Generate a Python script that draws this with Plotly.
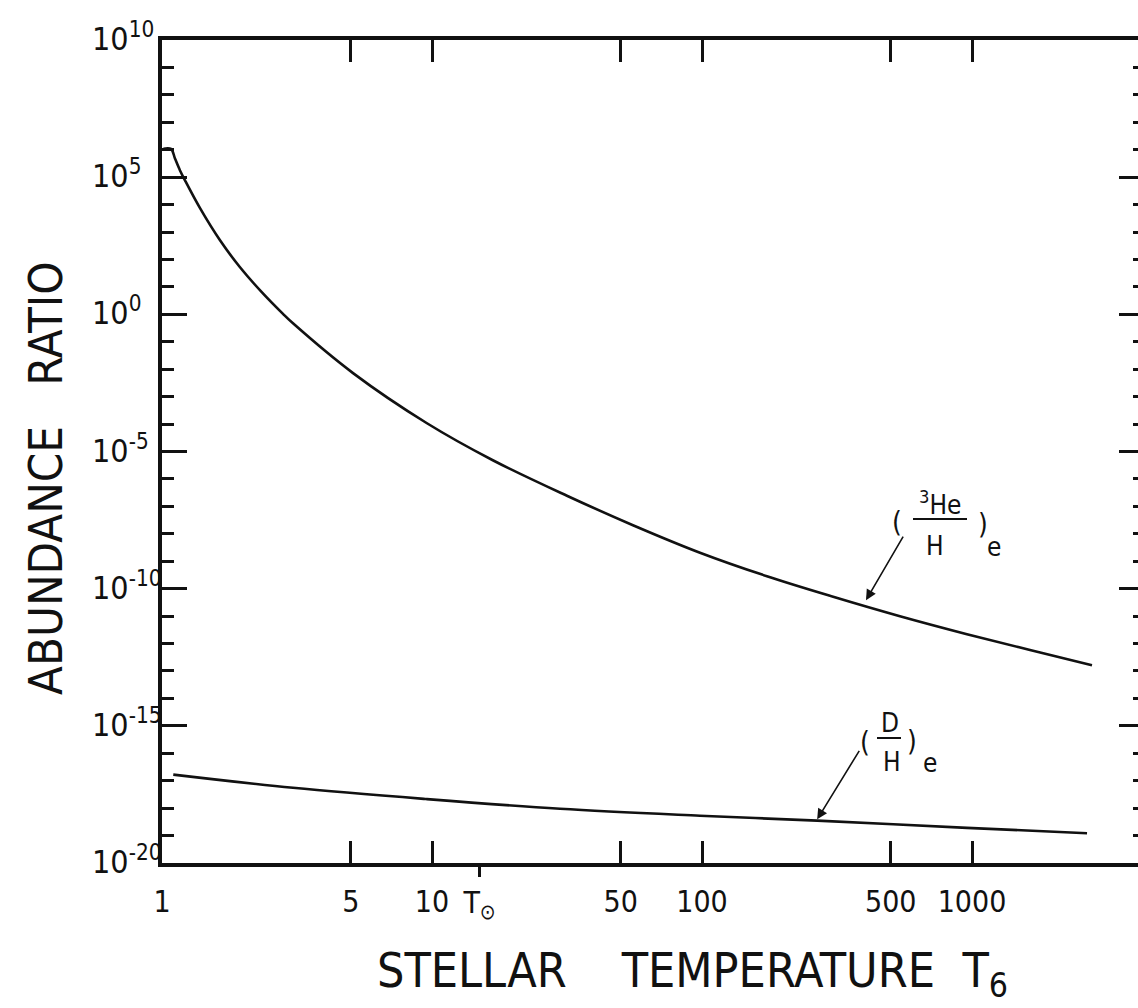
import math
import plotly.graph_objects as go

# ---------------- data ----------------
he3_T = [1.013, 1.080, 1.117, 1.166, 1.217, 1.383, 1.640, 1.945, 2.346, 2.806,
         3.056, 5.10, 9.58, 16.8, 31.6, 55.5, 98.3, 174, 306, 541, 958, 1640, 2782]
he3_ratio = [1.09e6, 1.07e6, 4.8e5, 1.76e5, 7.6e4, 7.4e3, 5.0e2, 52, 6.3, 1.04,
             0.47, 7.2e-3, 1.07e-4, 4.8e-6, 2.44e-7, 2.06e-8, 2.05e-9, 2.85e-10, 5.1e-11,
             9.95e-12, 2.2e-12, 5.8e-13, 1.63e-13]

d_T = [1.101, 3.056, 9.58, 29.8, 98.3, 267, 958, 2667]
d_ratio = [1.67e-17, 5.5e-18, 2.13e-18, 9.5e-19, 5.3e-19, 3.5e-19, 1.91e-19, 1.22e-19]

x_tickvals = [1, 5, 10, 50, 100, 500, 1000]
x_ticktext = ["1", "5", "10", "50", "100", "500", "1000"]
y_major_exp = [-20, -15, -10, -5, 0, 5, 10]
y_minor_exp = [-19, -18, -17, -16, -14, -13, -12, -11, -9, -8, -7, -6,
               -4, -3, -2, -1, 1, 2, 3, 4, 6, 7, 8, 9]
t_sun = 15
he3_arrow = (405, 3.8e-11)
d_arrow = (267, 3.9e-19)

# ---------------- layout geometry ----------------
# body margin is removed by the post script, so figure pixel = page pixel
OFF = 0
W, H = 1146, 1008
L, R, T, B = 162, 0, 40, 145
PW, PH = W - L - R, H - T - B
X_RANGE = [0, PW / 270.0]
Y_RANGE = [-20, 10]
FONT = "DejaVu Sans Condensed, Liberation Sans Narrow, DejaVu Sans, sans-serif"
INK = "#111111"


def pp(xp, yp):
    """page pixel -> paper coordinates"""
    return (xp - OFF - L) / PW, (T + PH - (yp - OFF)) / PH


fig = go.Figure()
fig.add_trace(go.Scatter(x=he3_T, y=he3_ratio, mode="lines",
                         line=dict(color=INK, width=2.6, shape="spline", smoothing=1.0),
                         showlegend=False, hoverinfo="skip"))
fig.add_trace(go.Scatter(x=d_T, y=d_ratio, mode="lines",
                         line=dict(color=INK, width=2.6, shape="spline", smoothing=1.0),
                         showlegend=False, hoverinfo="skip"))
# invisible traces for the overlay axes
fig.add_trace(go.Scatter(x=[t_sun], y=[1], xaxis="x2", yaxis="y2", mode="markers",
                         marker=dict(opacity=0), showlegend=False, hoverinfo="skip"))
fig.add_trace(go.Scatter(x=[t_sun], y=[1], xaxis="x", yaxis="y3", mode="markers",
                         marker=dict(opacity=0), showlegend=False, hoverinfo="skip"))

y_major = [10.0 ** e for e in y_major_exp]
y_minor = [10.0 ** e for e in y_minor_exp]

fig.update_layout(
    width=W, height=H,
    margin=dict(l=L, r=R, t=T, b=B, pad=0),
    paper_bgcolor="white", plot_bgcolor="white",
    font=dict(family=FONT, color=INK),
    xaxis=dict(type="log", range=X_RANGE, showgrid=False, zeroline=False,
               showline=True, linecolor=INK, linewidth=3.5, mirror="ticks",
               ticks="inside", ticklen=22, tickwidth=2.5, tickcolor=INK,
               tickmode="array", tickvals=x_tickvals, ticktext=x_ticktext,
               tickfont=dict(size=30, family=FONT, color=INK),
               ticklabelstandoff=9),
    xaxis2=dict(type="log", range=X_RANGE, overlaying="x", anchor="y", side="bottom",
                showgrid=False, zeroline=False, showline=False,
                ticks="outside", ticklen=13, tickwidth=2.5, tickcolor=INK,
                tickmode="array", tickvals=[t_sun], ticktext=["T<sub>\u2299</sub>"],
                tickfont=dict(size=30, family=FONT, color=INK),
                ticklabelstandoff=0),
    yaxis=dict(type="log", range=Y_RANGE, showgrid=False, zeroline=False,
               showline=True, linecolor=INK, linewidth=3.5, mirror=False,
               ticks="inside", ticklen=25, tickwidth=2.5, tickcolor=INK,
               tickmode="array", tickvals=y_major, showticklabels=False,
               minor=dict(tickmode="array", tickvals=y_minor, ticks="inside",
                          ticklen=12, tickwidth=2.5, tickcolor=INK, showgrid=False)),
    yaxis2=dict(type="log", range=Y_RANGE, overlaying="y", anchor="x", side="right",
                showgrid=False, zeroline=False, showline=False,
                ticks="inside", ticklen=27, tickwidth=2.5, tickcolor=INK,
                tickmode="array", tickvals=y_major, showticklabels=False),
    yaxis3=dict(type="log", range=Y_RANGE, overlaying="y", anchor="x", side="right",
                showgrid=False, zeroline=False, showline=False,
                ticks="inside", ticklen=13, tickwidth=3, tickcolor=INK,
                tickmode="array", tickvals=y_minor, showticklabels=False),
)

ann = []
# y tick labels (left aligned as in the original)
lx, _ = pp(90, 0)
for e in y_major_exp:
    ann.append(dict(x=lx, y=e, xref="paper", yref="y", xanchor="left", yanchor="middle",
                    text=f"10<sup>{e}</sup>", showarrow=False, yshift=3,
                    font=dict(size=32, family=FONT, color=INK)))

# axis titles
tx, ty = pp(45, 478)
ann.append(dict(x=tx, y=ty, xref="paper", yref="paper", textangle=-90,
                text="ABUNDANCE\u00a0\u00a0\u00a0RATIO", showarrow=False,
                xanchor="center", yanchor="middle",
                font=dict(size=47, family=FONT, color=INK)))
tx, ty = pp(692, 973)
ann.append(dict(x=tx, y=ty, xref="paper", yref="paper",
                text="STELLAR\u00a0\u00a0\u00a0\u00a0TEMPERATURE\u00a0\u00a0T<sub>6</sub>",
                showarrow=False, xanchor="center", yanchor="middle",
                font=dict(size=48, family=FONT, color=INK)))


def label(xp, yp, text, size=25):
    x, y = pp(xp, yp)
    ann.append(dict(x=x, y=y, xref="paper", yref="paper", text=text, showarrow=False,
                    xanchor="center", yanchor="middle",
                    font=dict(size=size, family=FONT, color=INK)))


# (3He/H)e label
label(897, 522, "(", 28)
label(940, 503, "<sup>3</sup>He", 26)
label(935, 546, "H", 26)
label(983, 524, ")", 28)
label(994, 547, "e", 26)
# (D/H)e label
label(865, 742, "(", 28)
label(890, 723, "D", 26)
label(892, 762, "H", 26)
label(912, 741, ")", 28)
label(930, 763, "e", 26)

# arrows
ann.append(dict(x=math.log10(he3_arrow[0]), y=math.log10(he3_arrow[1]), xref="x", yref="y",
                ax=38, ay=-65, showarrow=True, arrowhead=2, arrowsize=1.3,
                arrowwidth=1.6, arrowcolor=INK, text=""))
ann.append(dict(x=math.log10(d_arrow[0]), y=math.log10(d_arrow[1]), xref="x", yref="y",
                ax=43, ay=-70, showarrow=True, arrowhead=2, arrowsize=1.3,
                arrowwidth=1.6, arrowcolor=INK, text=""))

shapes = []
for (x0p, x1p, yp) in [(913, 967, 519), (877, 901, 738)]:
    x0, y0 = pp(x0p, yp)
    x1, _ = pp(x1p, yp)
    shapes.append(dict(type="line", xref="paper", yref="paper", x0=x0, x1=x1, y0=y0, y1=y0,
                       line=dict(color=INK, width=2)))

fig.update_layout(annotations=ann, shapes=shapes)
fig.write_html(
    "out.html",
    config={"displayModeBar": False},
    post_script=("document.body.style.margin='0';"
                 "document.body.style.overflow='hidden';"
                 "document.documentElement.style.overflow='hidden';"),
)
